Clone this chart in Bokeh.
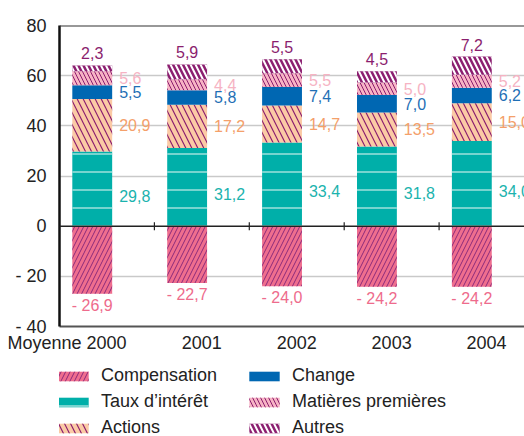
from bokeh.plotting import figure
from bokeh.layouts import column
from bokeh.models import FixedTicker, Span, Legend, LegendItem, Range1d
from bokeh.core.properties import value
from bokeh.embed import file_html
from bokeh.resources import INLINE

# ---- data ----
years = ["2000", "2001", "2002", "2003", "2004"]
first_prefix = "Moyenne "
compensation = [-26.9, -22.7, -24.0, -24.2, -24.2]
taux = [29.8, 31.2, 33.4, 31.8, 34.0]
actions = [20.9, 17.2, 14.7, 13.5, 15.0]
change = [5.5, 5.8, 7.4, 7.0, 6.2]
matieres = [5.6, 4.4, 5.5, 5.0, 5.2]
autres = [2.3, 5.9, 5.5, 4.5, 7.2]
series_names = ["Compensation", "Taux d\u2019int\u00e9r\u00eat", "Actions",
                "Change", "Mati\u00e8res premi\u00e8res", "Autres"]
y_ticks = [-40, -20, 0, 20, 40, 60, 80]
y_tick_labels = ["- 40", "- 20", "0", "20", "40", "60", "80"]

FONT = "Liberation Sans"
n = len(years)
cat_x = list(range(n))
BAR_W = 0.42
bar_x = [i - 0.155 for i in cat_x]

# x tick positions: the first (longer) label is shifted left
x_tick_pos = [cat_x[0] - 0.42] + cat_x[1:]
x_tick_labels = [first_prefix + years[0]] + years[1:]


def fmt(v):
    s = ("%.1f" % abs(v)).replace(".", ",")
    return ("- " + s) if v < 0 else s


styles = [
    dict(fill_color="#EF6E8E", hatch_pattern="/", hatch_color="#8B2A7A", hatch_scale=9, hatch_weight=1),
    dict(fill_color="#00AFA9", hatch_pattern="-", hatch_color="#9FE0DC", hatch_scale=18, hatch_weight=1.5),
    dict(fill_color="#FBCAA5", hatch_pattern="\\", hatch_color="#8B1E6E", hatch_scale=12, hatch_weight=1.2),
    dict(fill_color="#0067B2"),
    dict(fill_color="#F7B3C4", hatch_pattern="\\", hatch_color="#8B1E6E", hatch_scale=8, hatch_weight=1),
    dict(fill_color="#8B1F70", hatch_pattern="\\", hatch_color="#FFFFFF", hatch_scale=10, hatch_weight=2),
]
label_colors = ["#EE6B8C", "#1BB3AE", "#F4A06A", "#1F6FB5", "#F6B3C3", "#8B1E6E"]

p = figure(frame_width=465, frame_height=301, output_backend="svg", toolbar_location=None,
           x_range=Range1d(-0.5, 4.4), y_range=Range1d(-40, 80),
           min_border_left=59, min_border_top=25, min_border_right=0,
           min_border_bottom=30)
p.outline_line_color = None
p.background_fill_color = "white"

# grid
p.xgrid.visible = False
p.ygrid.ticker = FixedTicker(ticks=[t for t in y_ticks if t not in (-40, 0, 80)])
p.ygrid.grid_line_color = "#C9C9C9"
p.ygrid.grid_line_width = 1.5

# axes
p.yaxis.ticker = FixedTicker(ticks=y_ticks)
p.yaxis.major_label_overrides = {t: l for t, l in zip(y_ticks, y_tick_labels)}
p.yaxis.axis_line_color = "#111111"
p.yaxis.axis_line_width = 2.5
p.yaxis.major_tick_line_color = None
p.yaxis.minor_tick_line_color = None
p.yaxis.major_label_standoff = 7
p.yaxis.major_label_text_font = FONT
p.yaxis.major_label_text_font_size = "18px"
p.yaxis.major_label_text_color = "#222222"

p.xaxis.ticker = FixedTicker(ticks=x_tick_pos)
p.xaxis.major_label_overrides = {t: l for t, l in zip(x_tick_pos, x_tick_labels)}
p.xaxis.axis_line_color = "#555555"
p.xaxis.axis_line_width = 2
p.xaxis.major_tick_line_color = None
p.xaxis.minor_tick_line_color = None
p.xaxis.major_label_standoff = 0
p.xaxis.major_label_text_font = FONT
p.xaxis.major_label_text_font_size = "18px"
p.xaxis.major_label_text_color = "#222222"

# top border line
p.add_layout(Span(location=80, dimension="width", line_color="#333333", line_width=2))

# ---- stacked bars ----
positive = [taux, actions, change, matieres, autres]
p.vbar(x=bar_x, bottom=0, top=compensation, width=BAR_W, line_color=None, **styles[0])

base = [0.0] * n
seg_mid = []
for k, vals in enumerate(positive):
    tops = [b + v for b, v in zip(base, vals)]
    p.vbar(x=bar_x, bottom=base, top=tops, width=BAR_W, line_color=None, **styles[k + 1])
    seg_mid.append([(b + t) / 2 for b, t in zip(base, tops)])
    base = tops
totals = base

# zero line + separators
p.add_layout(Span(location=0, dimension="width", line_color="#222222", line_width=1.5))
seps = [i + 0.5 for i in cat_x[:-1]]
p.segment(x0=seps, y0=[-1.6] * len(seps), x1=seps, y1=[1.6] * len(seps),
          line_color="#222222", line_width=1.2)

# ---- value labels ----
common = dict(text_font=value(FONT), text_font_size="16px")
right_x = [x + BAR_W / 2 for x in bar_x]
for k in range(4):
    vals = positive[k]
    p.text(x=right_x, y=seg_mid[k], text=[fmt(v) for v in vals], x_offset=7,
           y_offset=7 if k == 0 else 0,
           text_align="left", text_baseline="middle", text_color=label_colors[k + 1], **common)
p.text(x=bar_x, y=totals, text=[fmt(v) for v in autres], y_offset=-6,
       text_align="center", text_baseline="bottom", text_color=label_colors[5], **common)
p.text(x=bar_x, y=compensation, text=[fmt(v) for v in compensation], y_offset=3,
       text_align="center", text_baseline="top", text_color=label_colors[0], **common)

# ---- legend (separate strip below the chart) ----
leg = figure(width=524, height=80, output_backend="svg", toolbar_location=None,
             x_axis_type=None, y_axis_type=None, min_border=0,
             x_range=Range1d(0, 1), y_range=Range1d(0, 1))
leg.outline_line_color = None
leg.grid.visible = False
all_series = [compensation, taux, actions, change, matieres, autres]
leg_renderers = []
for vals, st in zip(all_series, styles):
    rr = leg.vbar(x=bar_x, top=vals, width=BAR_W, line_color=None, **st)
    rr.visible = False
    leg_renderers.append(rr)
items = [LegendItem(label=name, renderers=[rr]) for name, rr in zip(series_names, leg_renderers)]
legend = Legend(items=items, orientation="vertical", nrows=3, location=(-5, -2),
                glyph_width=38, glyph_height=12, label_standoff=9, label_width=139,
                label_height=18, spacing=5, padding=0, margin=0,
                label_text_font=FONT, label_text_font_size="18px", label_text_color="#222222",
                border_line_color=None, background_fill_color=None,
                inactive_fill_alpha=0)
leg.add_layout(legend, "center")

open("out.html", "w").write(file_html(column(p, leg, spacing=0), INLINE))
